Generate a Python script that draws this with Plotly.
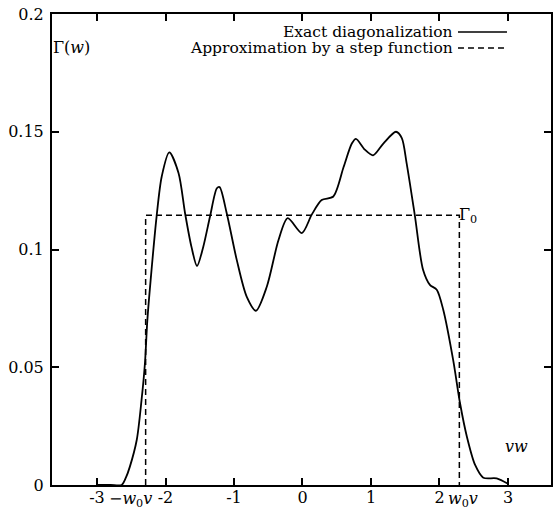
import plotly.graph_objects as go

# Exact diagonalization curve
exact_x = [-3.0, -2.8, -2.64, -2.58, -2.52, -2.42, -2.35, -2.30, -2.265, -2.217,
           -2.13, -2.055, -1.945, -1.81, -1.715, -1.62, -1.54, -1.45, -1.35, -1.25,
           -1.21, -1.107, -0.96, -0.815, -0.68, -0.52, -0.35, -0.216, -0.01, 0.135,
           0.28, 0.45, 0.6, 0.72, 0.78, 0.91, 1.03, 1.18, 1.365, 1.45, 1.52,
           1.64, 1.76, 1.86, 1.96, 2.055, 2.2, 2.3, 2.4, 2.52, 2.64, 2.835, 3.0]
exact_y = [0.0, 0.0, 0.0, 0.003, 0.0078, 0.0191, 0.036, 0.0517, 0.070, 0.087,
           0.114, 0.131, 0.1412, 0.1325, 0.1155, 0.101, 0.093, 0.101, 0.114, 0.126,
           0.1265, 0.1155, 0.0956, 0.080, 0.074, 0.0843, 0.104, 0.1133, 0.107, 0.1148,
           0.121, 0.1225, 0.135, 0.145, 0.147, 0.1424, 0.140, 0.145, 0.150, 0.1473, 0.1367,
           0.1145, 0.0914, 0.085, 0.0829, 0.0744, 0.053, 0.0347, 0.0205, 0.0085, 0.0031, 0.0028, 0.0005]

# Step function approximation
w0v = 2.29
gamma0 = 0.1145
step_x = [-w0v, -w0v, w0v, w0v]
step_y = [0.0, gamma0, gamma0, 0.0]

x_ticks = [-3, -2, -1, 0, 1, 2, 3]
x_ticktext = ["-3", "-2", "-1", "0", "1", "2", "3"]
y_ticks = [0, 0.05, 0.1, 0.15, 0.2]
y_ticktext = ["0", "0.05", "0.1", "0.15", "0.2"]

legend_labels = ["Exact diagonalization", "Approximation by a step function"]

FONT = "DejaVu Serif"
FS = 16

fig = go.Figure()
fig.add_trace(go.Scatter(x=exact_x, y=exact_y, mode="lines",
                         line=dict(color="black", width=1.8, shape="spline", smoothing=0.8),
                         name=legend_labels[0], showlegend=False))
fig.add_trace(go.Scatter(x=step_x, y=step_y, mode="lines",
                         line=dict(color="black", width=1.5, dash="6px,4px"),
                         name=legend_labels[1], showlegend=False))

axis_common = dict(showline=True, linecolor="black", linewidth=2, mirror="ticks",
                   ticks="inside", ticklen=7, tickwidth=2, tickcolor="black",
                   showgrid=False, zeroline=False, ticklabeloverflow="allow",
                   automargin=False,
                   tickfont=dict(family=FONT, size=FS, color="black"))

fig.update_xaxes(range=[-3.657, 3.628], tickvals=x_ticks, ticktext=x_ticktext,
                 ticklabelstandoff=-3, **axis_common)
fig.update_yaxes(range=[0, 0.2], tickvals=y_ticks, ticktext=y_ticktext,
                 ticklabelstandoff=3, **axis_common)

ann_font = dict(family=FONT, size=FS, color="black")
leg_font = dict(family=FONT, size=15.5, color="black")
annotations = [
    dict(x=-w0v, y=0, xref="x", yref="y", text="\u2212<i>w</i><sub>0</sub><i>v</i>",
         showarrow=False, xanchor="center", yanchor="top", xshift=-15, yshift=-2, font=ann_font),
    dict(x=w0v, y=0, xref="x", yref="y", text="<i>w</i><sub>0</sub><i>v</i>",
         showarrow=False, xanchor="center", yanchor="top", xshift=4, yshift=-2, font=ann_font),
    dict(x=0, y=0.1856, xref="paper", yref="y", text="\u0393(<i>w</i>)",
         showarrow=False, xanchor="left", yanchor="middle", xshift=-1, font=ann_font),
    dict(x=w0v, y=gamma0, xref="x", yref="y", text="\u0393<sub>0</sub>",
         showarrow=False, xanchor="left", yanchor="middle", xshift=-2, font=ann_font),
    dict(x=3.13, y=0.0162, xref="x", yref="y", text="<i>vw</i>",
         showarrow=False, xanchor="center", yanchor="middle", font=ann_font),
    dict(x=0.8076, y=0.9618, xref="paper", yref="paper", text=legend_labels[0],
         showarrow=False, xanchor="right", yanchor="middle", height=16, font=leg_font),
    dict(x=0.8076, y=0.9278, xref="paper", yref="paper", text=legend_labels[1],
         showarrow=False, xanchor="right", yanchor="middle", height=16, font=leg_font),
]

shapes = [
    dict(type="line", xref="paper", yref="paper", x0=0.8136, x1=0.9118, y0=0.9618, y1=0.9618,
         line=dict(color="black", width=1.5)),
    dict(type="line", xref="paper", yref="paper", x0=0.8136, x1=0.9118, y0=0.9278, y1=0.9278,
         line=dict(color="black", width=1.5, dash="6px,4px")),
]

fig.update_layout(width=553, height=510,
                  margin=dict(l=52, r=2, t=14, b=25),
                  plot_bgcolor="white", paper_bgcolor="white",
                  annotations=annotations, shapes=shapes,
                  font=dict(family=FONT, size=FS, color="black"))

# remove the browser's default page margin so the figure sits at the window's corner
fig.write_html("out.html", config={"displayModeBar": False},
               post_script="document.body.style.margin='0';document.body.style.overflow='hidden';")
